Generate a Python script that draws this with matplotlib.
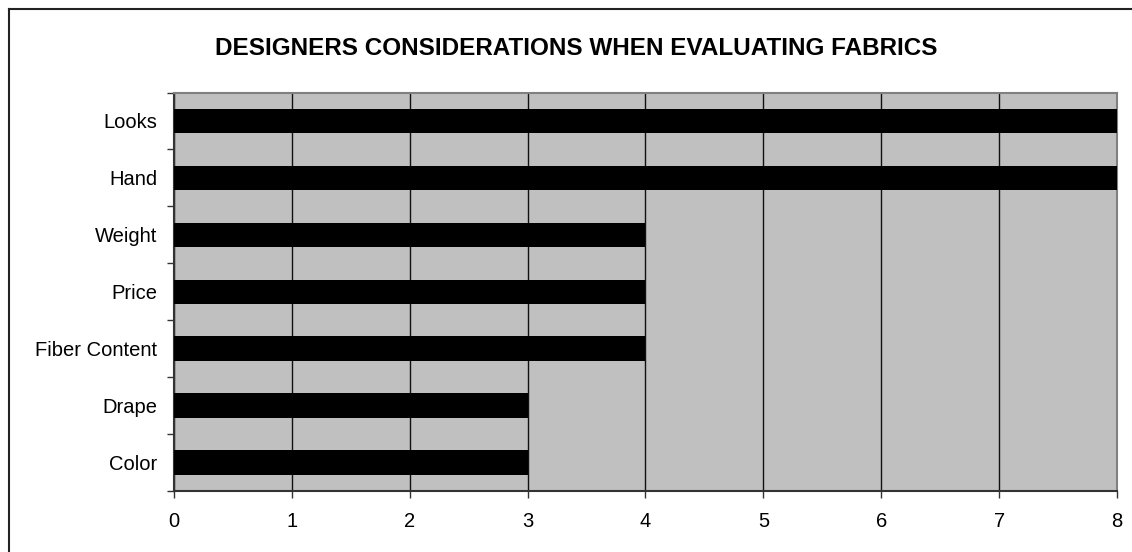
import matplotlib.pyplot as plt
from matplotlib.lines import Line2D
import numpy as np

plt.rcParams['font.family'] = ['Liberation Sans', 'DejaVu Sans']

# survey results, bottom to top
categories = ['Color', 'Drape', 'Fiber Content', 'Price', 'Weight', 'Hand', 'Looks']
counts = [3, 3, 4, 4, 4, 8, 8]
x_ticks = [0, 1, 2, 3, 4, 5, 6, 7, 8]

fig = plt.figure(figsize=(11.32, 5.52), dpi=100)
ax = fig.add_axes([0.1537, 0.1105, 0.8330, 0.7219])
ax.set_facecolor('#C0C0C0')

y = np.arange(len(categories))
ax.barh(y, counts, height=0.43, color='black', zorder=3)

ax.set_xlim(0, 8)
ax.set_ylim(-0.5, len(categories) - 0.5)
ax.set_xticks(x_ticks)
ax.set_xticklabels([str(t) for t in x_ticks], fontsize=14.5)
ax.tick_params(axis='x', length=5, width=1, pad=10, color='#333333')

# labels centred on bars, tick marks between categories
ax.set_yticks(np.arange(-0.5, len(categories), 1.0))
ax.set_yticklabels([])
ax.set_yticks(y, minor=True)
ax.set_yticklabels(categories, minor=True, fontsize=14.5)
ax.tick_params(axis='y', which='major', length=5, width=1, color='#333333')
ax.tick_params(axis='y', which='minor', length=0, pad=12)

ax.grid(axis='x', color='#111111', linewidth=1, zorder=1)
ax.set_axisbelow(True)

for side in ['left', 'bottom']:
    ax.spines[side].set_color('#333333')
    ax.spines[side].set_linewidth(1.5)
for side in ['top', 'right']:
    ax.spines[side].set_color('#808080')
    ax.spines[side].set_linewidth(1.5)

fig.text(0.509, 0.913, 'DESIGNERS CONSIDERATIONS WHEN EVALUATING FABRICS',
         ha='center', va='center', fontsize=17.5, fontweight='bold')

# chart frame (top and left edges)
fig.add_artist(Line2D([9 / 1132, 9 / 1132], [0, 1 - 9 / 552], transform=fig.transFigure,
                      color='#222222', linewidth=1.5))
fig.add_artist(Line2D([9 / 1132, 1], [1 - 9 / 552, 1 - 9 / 552], transform=fig.transFigure,
                      color='#222222', linewidth=1.5))

fig.savefig('out.png', dpi=100)
